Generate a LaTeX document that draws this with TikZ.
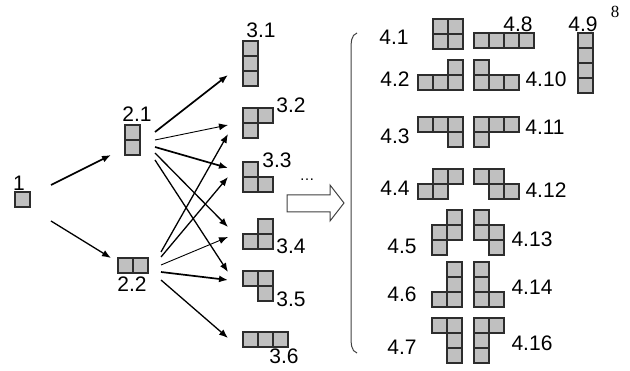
\documentclass[tikz,border=0pt]{standalone}
\usepackage{fontspec}
\setmainfont{Liberation Sans}
\newfontfamily\serifnum{Liberation Serif}
\usetikzlibrary{arrows.meta,calc}
\definecolor{cellgray}{RGB}{192,192,192}
\definecolor{celledge}{RGB}{45,45,45}
\tikzset{
  cellst/.style={fill=cellgray,draw=celledge,line width=1.3pt},
  lbl/.style={inner sep=0pt,font=\fontsize{21}{24}\selectfont},
  arrthick/.style={line width=1.7pt,-{Latex[length=9pt,width=7pt]}},
  arrmid/.style={line width=1.3pt,-{Latex[length=9pt,width=7pt]}},
  arrthin/.style={line width=0.9pt,-{Latex[length=9pt,width=7pt]}},
}
\newcommand\tile[3]{%
  \coordinate (#1) at (#2);
  \begin{scope}[shift={(#2)}]
    \foreach \c/\r in {#3} \draw[cellst] (\c*15,\r*15) rectangle ++(15,15);
  \end{scope}}
\begin{document}
\begin{tikzpicture}[x=1pt,y=-1pt]
\useasboundingbox (0,0) rectangle (630,371);
% level 1 and 2
\tile{p1}{15,192}{0/0}
\node[lbl] (l1) at (19,183) {1};
\tile{p21}{125,125}{0/0,0/1}
\node[lbl] (l21) at (137,114) {2.1};
\tile{p22}{118,258}{0/0,1/0}
\node[lbl] (l22) at (132,284) {2.2};
% level 3
\tile{p31}{243,41}{0/0,0/1,0/2}
\node[lbl] (l31) at (261,30) {3.1};
\tile{p32}{243,108}{0/0,1/0,0/1}
\node[lbl] (l32) at (291,105) {3.2};
\tile{p33}{243,162}{0/0,0/1,1/1}
\node[lbl] (l33) at (277,160) {3.3};
\tile{p34}{243,219}{1/0,0/1,1/1}
\node[lbl] (l34) at (291,246) {3.4};
\tile{p35}{243,271}{0/0,1/0,1/1}
\node[lbl] (l35) at (291,299) {3.5};
\tile{p36}{243,332}{0/0,1/0,2/0}
\node[lbl] (l36) at (284,356) {3.6};
\node[lbl] (dots) at (307,180) {\fontsize{15}{16}\selectfont\dots};
% level 4
\tile{p41}{433,19}{0/0,1/0,0/1,1/1}
\node[lbl] (l41) at (394,37) {4.1};
\tile{p48}{474,33}{0/0,1/0,2/0,3/0}
\node[lbl] (l48) at (518,24) {4.8};
\tile{p49}{578,33}{0/0,0/1,0/2,0/3}
\node[lbl] (l49) at (583,24) {4.9};
\tile{p42}{418,60}{2/0,0/1,1/1,2/1}
\node[lbl] (l42) at (395,79) {4.2};
\tile{p410}{474,60}{0/0,0/1,1/1,2/1}
\node[lbl] (l410) at (546,79) {4.10};
\tile{p43}{418,117}{0/0,1/0,2/0,2/1}
\node[lbl] (l43) at (395,136) {4.3};
\tile{p411}{474,117}{0/0,1/0,2/0,0/1}
\node[lbl] (l411) at (545,127) {4.11};
\tile{p44}{418,169}{1/0,2/0,0/1,1/1}
\node[lbl] (l44) at (395,188) {4.4};
\tile{p412}{474,169}{0/0,1/0,1/1,2/1}
\node[lbl] (l412) at (546,190) {4.12};
\tile{p45}{432,210}{1/0,0/1,1/1,0/2}
\node[lbl] (l45) at (402,246) {4.5};
\tile{p413}{474,210}{0/0,0/1,1/1,1/2}
\node[lbl] (l413) at (532,239) {4.13};
\tile{p46}{432,262}{1/0,1/1,1/2,0/2}
\node[lbl] (l46) at (402,294) {4.6};
\tile{p414}{474,262}{0/0,0/1,0/2,1/2}
\node[lbl] (l414) at (532,287) {4.14};
\tile{p47}{432,318}{0/0,1/0,1/1,1/2}
\node[lbl] (l47) at (402,347) {4.7};
\tile{p416}{474,318}{0/0,1/0,0/1,0/2}
\node[lbl] (l416) at (532,343) {4.16};
% page number
\node[inner sep=0pt,font=\serifnum\fontsize{17}{19}\selectfont] (pg) at (615,12) {8};
% arrows from 1
\draw[arrthick] ([shift={(36,-7)}]p1) -- ([shift={(-14,30)}]p21);
\draw[arrmid] ([shift={(36,29)}]p1) -- ([shift={(-7,0)}]p22);
% arrows from 2.1
\draw[arrthick] ([shift={(30,7)}]p21) -- ([shift={(-15,34)}]p31);
\draw[arrthin]  ([shift={(30,15)}]p21) -- ([shift={(-15,17)}]p32);
\draw[arrthick] ([shift={(30,22)}]p21) -- ([shift={(-15,6)}]p33);
\draw[arrmid]   ([shift={(30,28)}]p21) -- ([shift={(-15,8)}]p34);
\draw[arrmid]   ([shift={(30,35)}]p21) -- ([shift={(-15,1)}]p35);
% arrows from 2.2
\draw[arrmid]   ([shift={(43,-6)}]p22) -- ([shift={(-15,26)}]p32);
\draw[arrmid]   ([shift={(43,-1)}]p22) -- ([shift={(-15,15)}]p33);
\draw[arrthin]  ([shift={(43,7)}]p22) -- ([shift={(-15,18)}]p34);
\draw[arrthick] ([shift={(43,14)}]p22) -- ([shift={(-15,9)}]p35);
\draw[arrmid]   ([shift={(43,22)}]p22) -- ([shift={(-15,6)}]p36);
% hollow arrow
\coordinate (ha) at (287,195);
\draw[draw=black!75,line width=1pt,fill=white] (ha) -- ++(43,0) -- ++(0,-10) -- ++(14,18) -- ++(-14,18) -- ++(0,-9) -- ++(-43,0) -- cycle;
% bracket
\coordinate (bt) at (357,33);
\coordinate (bb) at (357,353);
\draw[black!75,line width=1pt] (bt) .. controls (351,35) and (351,42) .. (351,52) -- (351,334) .. controls (351,344) and (351,351) .. (bb);
\end{tikzpicture}
\end{document}
